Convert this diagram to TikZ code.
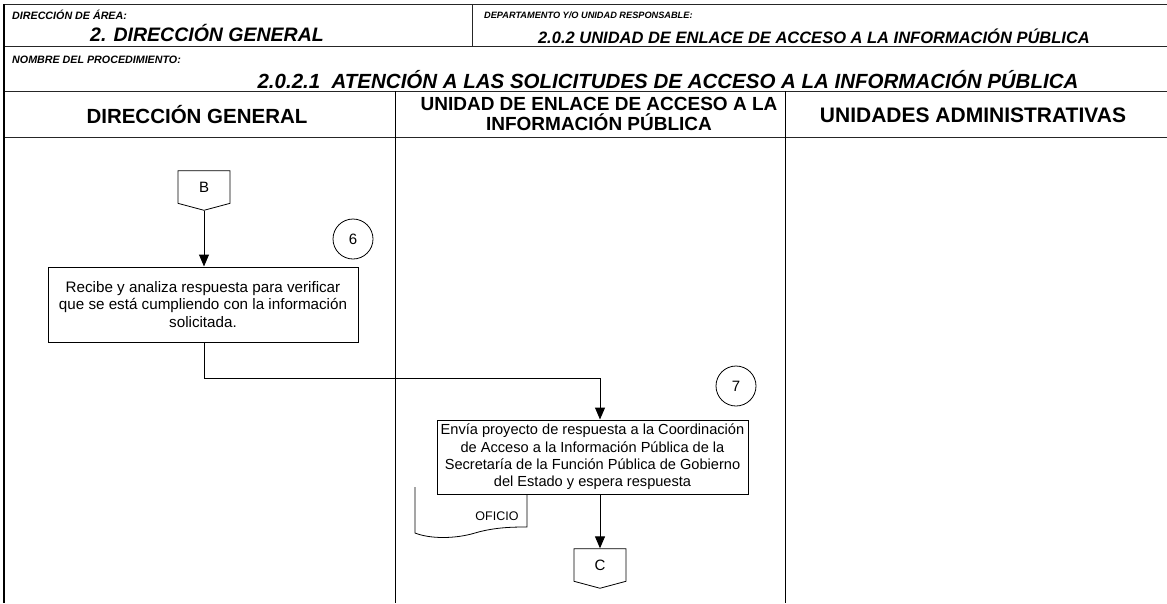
\documentclass[tikz,border=0pt]{standalone}
\usepackage{fontspec}
\setmainfont{Liberation Sans}
\usetikzlibrary{arrows.meta,shapes.symbols}
\tikzset{
frame/.style={draw=black!85, line width=0.9pt},
lbl/.style={font=\fontsize{10.7}{12}\selectfont\bfseries\itshape, anchor=west, inner sep=0pt},
val/.style={font=\fontsize{19.5}{21}\selectfont\bfseries\itshape, inner sep=0pt},
lane/.style={font=\fontsize{20.5}{21}\selectfont\bfseries, align=center, inner sep=0pt},
act/.style={draw, line width=1pt, fill=white, align=center, inner sep=2pt,
  font=\fontsize{14.6}{17.3}\selectfont},
stepno/.style={draw, circle, line width=0.8pt, minimum size=40pt, inner sep=0pt,
  font=\fontsize{15}{15}\selectfont},
offpage/.style={draw, line width=0.8pt, fill=white, signal, signal to=south,
  signal pointer angle=150, minimum width=52pt, minimum height=34pt, inner sep=0pt,
  font=\fontsize{15}{15}\selectfont},
flow/.style={line width=1pt, -{Triangle[length=12pt,width=10pt]}},
oficio/.pic={
  \draw[line width=0.8pt, fill=white] (0,0) -- (0,46)
    .. controls (15,52) and (40,52) .. (60,46)
    .. controls (80,40) and (100,40) .. (112,40) -- (112,0);
  }
}
\begin{document}
\begin{tikzpicture}[x=1pt, y=-1pt]
\useasboundingbox (0,0) rectangle (1167,603);
% header grid
\draw[frame] (4,4) -- (1167,4);
\draw[frame] (4,46) -- (1167,46);
\draw[frame] (4,91) -- (1167,91);
\draw[frame] (4,137) -- (1167,137);
\draw[frame] (472,4) -- (472,46);
\draw[line width=1.2pt] (4,4) -- (4,603);
\draw[line width=1pt] (395,91) -- (395,603);
\draw[line width=1pt] (785,91) -- (785,603);
\node[lbl] (areaLbl) at (12,15) {DIRECCIÓN DE ÁREA:};
\node[val] (area) at (207,33) {2. DIRECCIÓN GENERAL};
\node[lbl, font=\fontsize{9.2}{10}\selectfont\bfseries\itshape] (deptoLbl) at (484,15)
  {DEPARTAMENTO Y/O UNIDAD RESPONSABLE:};
\node[val, font=\fontsize{16.5}{18}\selectfont\bfseries\itshape] (depto) at (814,36)
  {2.0.2 UNIDAD DE ENLACE DE ACCESO A LA INFORMACIÓN PÚBLICA};
\node[lbl] (procLbl) at (12,60) {NOMBRE DEL PROCEDIMIENTO:};
\node[val, font=\fontsize{20.5}{22}\selectfont\bfseries\itshape] (proc) at (668,80)
  {2.0.2.1\ \ ATENCIÓN A LAS SOLICITUDES DE ACCESO A LA INFORMACIÓN PÚBLICA};
% lanes
\node[lane] (laneDG) at (197,115) {DIRECCIÓN GENERAL};
\node[lane, font=\fontsize{19}{20.5}\selectfont\bfseries] (laneUE) at (599,114)
  {UNIDAD DE ENLACE DE ACCESO A LA\\INFORMACIÓN PÚBLICA};
\node[lane, font=\fontsize{21}{22}\selectfont\bfseries] (laneUA) at (973,115)
  {UNIDADES ADMINISTRATIVAS};
% flow
\node[offpage] (B) at (204,187) {B};
\node[stepno] (s6) at (353,239) {6};
\node[act, minimum width=310pt, minimum height=75pt,
  font=\fontsize{15.2}{17.3}\selectfont] (recibe) at (203,304.5)
  {Recibe y analiza respuesta para verificar\\que se está cumpliendo con la información\\solicitada.};
\node[stepno] (s7) at (736,386) {7};
\pic at (415,487) {oficio};
\node[inner sep=0pt, font=\fontsize{12.5}{12.5}\selectfont] (oficioTxt) at (497,516) {OFICIO};
\node[act, minimum width=311pt, minimum height=74pt] (envia) at (592.5,457)
  {Envía proyecto de respuesta a la Coordinación\\de Acceso a la Información Pública de la\\Secretaría de la Función Pública de Gobierno\\del Estado y espera respuesta};
\node[offpage] (C) at (600,565) {C};
\coordinate (bend) at (600,378);
\draw[flow] (B.south) -- (B.south |- recibe.north);
\draw[flow] (recibe.south -| B) |- (bend) -- (bend |- envia.north);
\draw[flow] (C.north |- envia.south) -- (C.north);
\end{tikzpicture}
\end{document}
